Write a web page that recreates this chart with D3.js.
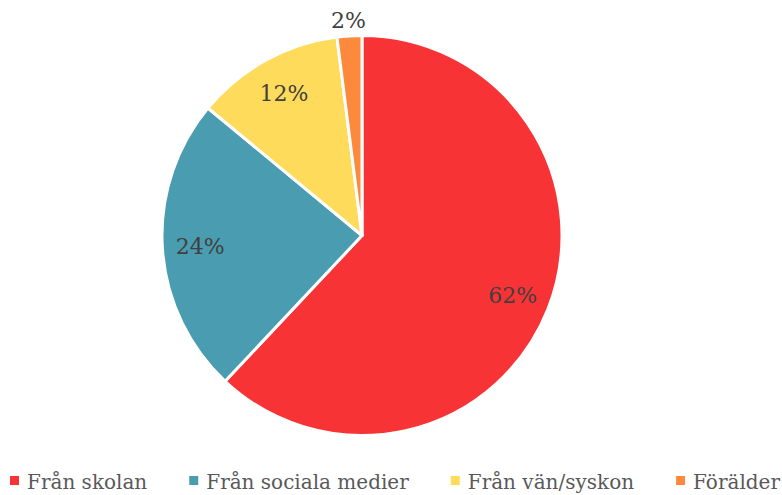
<!DOCTYPE html>
<html>
<head>
<meta charset="utf-8">
<script src="https://cdn.jsdelivr.net/npm/d3@7"></script>
<style>
  html, body { margin: 0; padding: 0; background: #ffffff; }
  svg { display: block; }
</style>
</head>
<body>
<svg id="chart" width="782" height="495"></svg>
<script>
// Where respondents heard about it (share of answers, %)
const categories = ["Från skolan", "Från sociala medier", "Från vän/syskon", "Förälder"];
const values = [62, 24, 12, 2];
const colors = ["#F73336", "#4A9DB0", "#FEDB5A", "#FD8A3C"];

const width = 782, height = 495;
const cx = 362, cy = 235.5, radius = 200;
const fontFamily = "'DejaVu Serif', 'Liberation Serif', serif";

const svg = d3.select("#chart");

const pie = d3.pie().sort(null).value(d => d.value);
const data = categories.map((c, i) => ({ name: c, value: values[i], color: colors[i] }));
const arcs = pie(data);

const arc = d3.arc().innerRadius(0).outerRadius(radius);
const labelArcIn = d3.arc().innerRadius(radius * 0.81).outerRadius(radius * 0.81);
const labelArcOut = d3.arc().innerRadius(radius * 1.08).outerRadius(radius * 1.08);

const g = svg.append("g").attr("transform", `translate(${cx},${cy})`);

g.selectAll("path.slice")
  .data(arcs)
  .join("path")
  .attr("class", "slice")
  .attr("d", arc)
  .attr("fill", d => d.data.color)
  .attr("stroke", "#ffffff")
  .attr("stroke-width", 3)
  .attr("stroke-linejoin", "round");

// Percentage labels: inside for large slices, just outside for tiny ones
g.selectAll("text.pct")
  .data(arcs)
  .join("text")
  .attr("class", "pct")
  .attr("transform", d => {
    const small = (d.endAngle - d.startAngle) < 0.3;
    const p = (small ? labelArcOut : labelArcIn).centroid(d);
    return `translate(${p[0]},${p[1]})`;
  })
  .attr("text-anchor", "middle")
  .attr("dy", "0.36em")
  .attr("font-family", fontFamily)
  .attr("font-size", 22)
  .attr("fill", "#404040")
  .text(d => `${d.data.value}%`);

// Legend along the bottom
const legend = svg.append("g").attr("transform", "translate(0,489)");
const items = legend.selectAll("g.item")
  .data(data)
  .join("g")
  .attr("class", "item");

items.append("rect")
  .attr("x", 0)
  .attr("y", -13)
  .attr("width", 9)
  .attr("height", 9)
  .attr("fill", d => d.color);

items.append("text")
  .attr("x", 17)
  .attr("y", 0)
  .attr("font-family", fontFamily)
  .attr("font-size", 20)
  .attr("fill", "#595959")
  .text(d => d.name);

const gap = 42;
let xPos = 0;
const widths = [];
items.each(function () {
  const w = d3.select(this).select("text").node().getComputedTextLength();
  widths.push(17 + w);
});
const total = d3.sum(widths) + gap * (widths.length - 1);
xPos = (width - total) / 2 + 4;
items.attr("transform", (d, i) => {
  const x = xPos;
  xPos += widths[i] + gap;
  return `translate(${x},0)`;
});
</script>
</body>
</html>
